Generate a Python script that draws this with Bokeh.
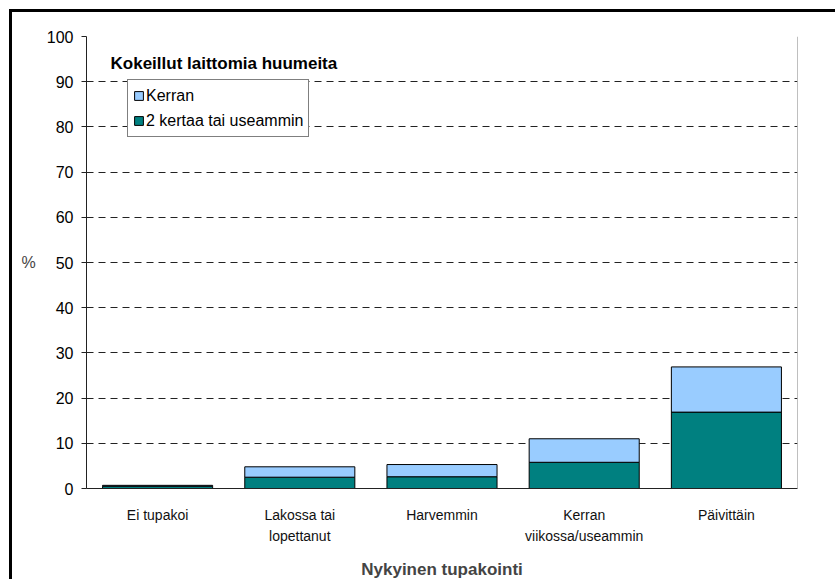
from bokeh.plotting import figure
from bokeh.models import (FixedTicker, Span, Label, Legend, LegendItem, ColumnDataSource)
from bokeh.embed import file_html
from bokeh.resources import INLINE

categories = ["Ei tupakoi", "Lakossa tai\nlopettanut", "Harvemmin",
              "Kerran\nviikossa/useammin", "Päivittäin"]
series_names = ["2 kertaa tai useammin", "Kerran"]
useammin = [0.5, 2.5, 2.6, 5.8, 16.9]
kerran = [0.2, 2.3, 2.7, 5.2, 10.0]
y_ticks = [0, 10, 20, 30, 40, 50, 60, 70, 80, 90, 100]
title_text = "Kokeillut laittomia huumeita"
x_title = "Nykyinen tupakointi"
y_title = "%"

FONT = "Liberation Sans"
xs = [i + 0.5 for i in range(len(categories))]
src = ColumnDataSource(dict(x=xs, useammin=useammin, kerran=kerran))

p = figure(width=826, height=570, x_range=(0, len(categories)), y_range=(0, 100),
           output_backend="svg", toolbar_location=None,
           min_border_left=74, min_border_top=24, min_border_right=41, min_border_bottom=91)
p.styles = {"border-left": "3px solid black", "border-top": "3px solid black",
            "margin-left": "9px", "margin-top": "9px"}
p.outline_line_color = None
p.background_fill_color = "white"

r = p.vbar_stack(["useammin", "kerran"], x="x", width=0.774, source=src,
                 color=["#008080", "#99CCFF"], line_color="black", line_width=1)

# axes
p.xgrid.grid_line_color = None
p.ygrid.grid_line_color = "#222222"
p.ygrid.grid_line_dash = "7 5"
p.ygrid.grid_line_width = 1
p.yaxis.ticker = FixedTicker(ticks=y_ticks)
p.yaxis.minor_tick_line_color = None
p.yaxis.major_tick_out = 5
p.yaxis.major_tick_in = 0
p.yaxis.major_label_standoff = 8
p.yaxis.axis_line_color = "#222222"
p.yaxis.major_tick_line_color = "#222222"
p.yaxis.major_label_text_font = FONT
p.yaxis.major_label_text_font_size = "16px"
p.yaxis.major_label_text_color = "black"
p.yaxis.axis_label = y_title
p.yaxis.axis_label_orientation = "horizontal"
p.yaxis.axis_label_text_font = FONT
p.yaxis.axis_label_text_font_style = "normal"
p.yaxis.axis_label_text_font_size = "16px"
p.yaxis.axis_label_standoff = 8

p.xaxis.ticker = FixedTicker(ticks=xs)
p.xaxis.major_label_overrides = {x: c for x, c in zip(xs, categories)}
p.xaxis.minor_tick_line_color = None
p.xaxis.major_tick_out = 0
p.xaxis.major_tick_in = 0
p.xaxis.axis_line_color = "#222222"
p.xaxis.major_label_standoff = 18
p.xaxis.major_label_text_font = FONT
p.xaxis.major_label_text_font_size = "14px"
p.xaxis.major_label_text_color = "#111111"
p.xaxis.major_label_text_line_height = 1.35
p.xaxis.axis_label = x_title
p.xaxis.axis_label_text_font = FONT
p.xaxis.axis_label_text_font_style = "bold"
p.xaxis.axis_label_text_font_size = "17px"
p.xaxis.axis_label_standoff = 13

p.add_layout(Span(location=len(categories), dimension="height", line_color="#808080", line_width=1))

p.add_layout(Label(x=0.169, y=94.1, text=title_text, text_font=FONT, text_font_style="bold",
                   text_font_size="17px", text_baseline="middle", text_color="black"))

legend = Legend(items=[LegendItem(label=series_names[1], renderers=[r[1]]),
                       LegendItem(label=series_names[0], renderers=[r[0]])],
                location=(41, 351))
legend.border_line_color = "black"
legend.border_line_width = 1
legend.background_fill_alpha = 1
legend.label_text_font = FONT
legend.label_text_font_size = "16px"
legend.label_text_color = "black"
legend.glyph_width = 11
legend.glyph_height = 11
legend.label_standoff = 2
legend.label_height = 21
legend.spacing = 4
legend.padding = 5
legend.margin = 0
p.add_layout(legend, "center")

open("out.html", "w").write(file_html(p, INLINE))
